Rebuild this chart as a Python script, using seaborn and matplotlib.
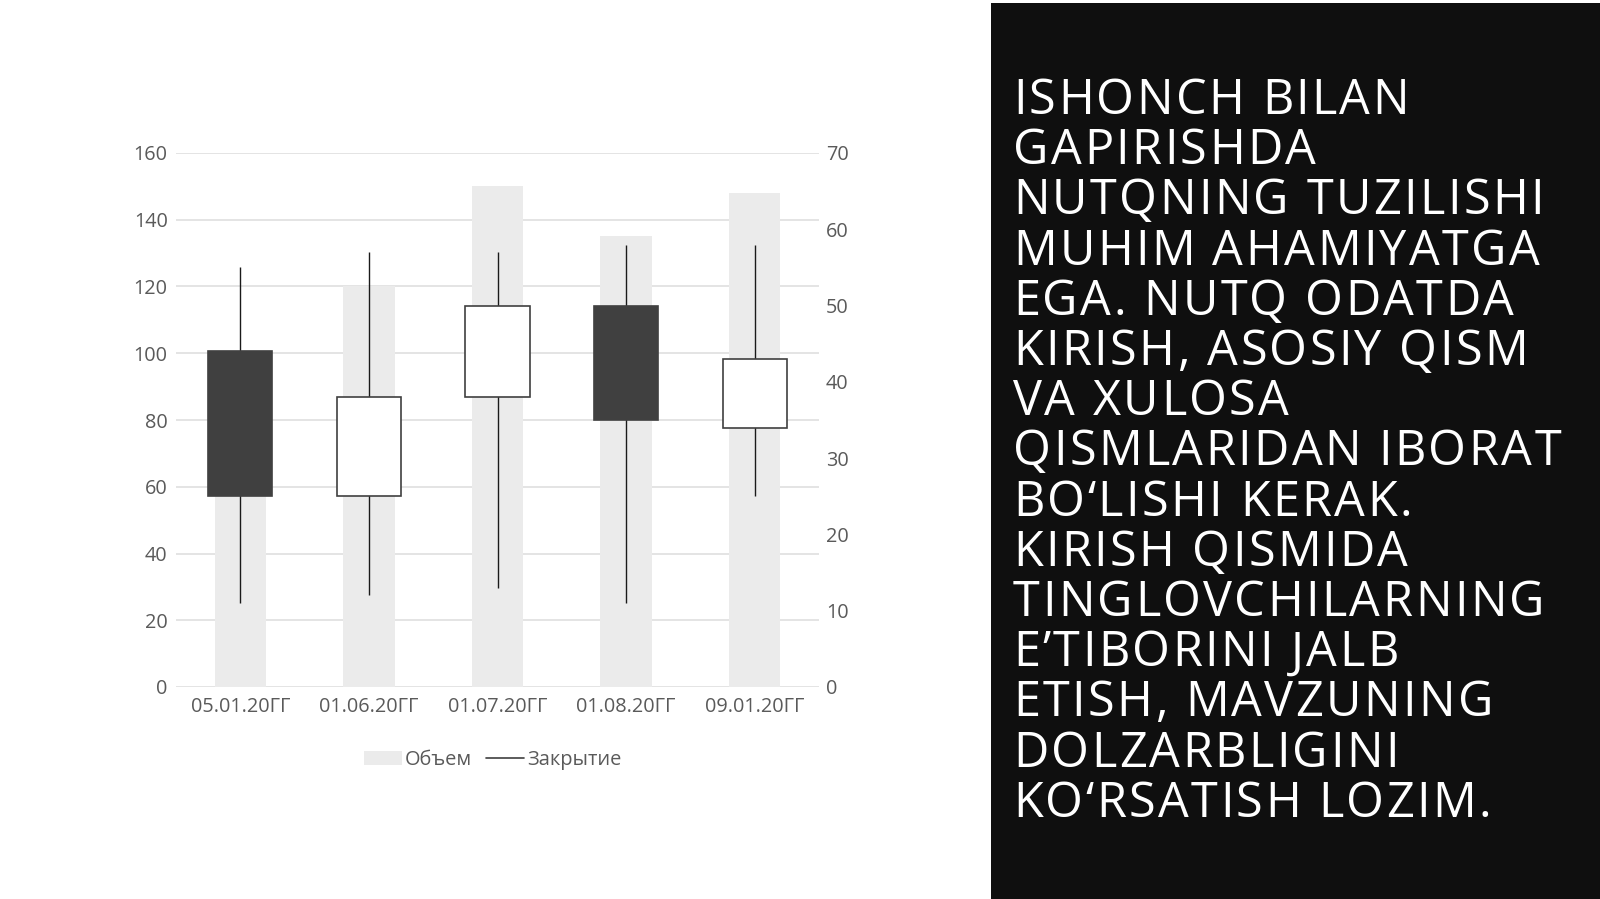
import matplotlib
matplotlib.use("Agg")
import matplotlib.pyplot as plt
import seaborn as sns
import pandas as pd
from matplotlib.patches import Rectangle, Patch
from matplotlib.lines import Line2D

# ---- data ----
dates = ["05.01.20ГГ", "01.06.20ГГ", "01.07.20ГГ", "01.08.20ГГ", "09.01.20ГГ"]
volume = [70, 120, 150, 135, 148]
open_ = [44, 25, 38, 50, 34]
high = [55, 57, 57, 58, 58]
low = [11, 12, 13, 11, 25]
close = [25, 38, 50, 35, 43]
left_ticks = [0, 20, 40, 60, 80, 100, 120, 140, 160]
right_ticks = [0, 10, 20, 30, 40, 50, 60, 70]
legend_labels = ["Объем", "Закрытие"]
text_lines = [
    "ISHONCH BILAN",
    "GAPIRISHDA",
    "NUTQNING TUZILISHI",
    "MUHIM AHAMIYATGA",
    "EGA. NUTQ ODATDA",
    "KIRISH, ASOSIY QISM",
    "VA XULOSA",
    "QISMLARIDAN IBORAT",
    "BO‘LISHI KERAK.",
    "KIRISH QISMIDA",
    "TINGLOVCHILARNING",
    "E’TIBORINI JALB",
    "ETISH, MAVZUNING",
    "DOLZARBLIGINI",
    "KO‘RSATISH LOZIM.",
]

sns.set_theme(style="white")
plt.rcParams['font.family'] = ['Open Sans', 'DejaVu Sans']

W, H = 1600, 899
fig = plt.figure(figsize=(16, 8.99), dpi=100)
fig.patch.set_facecolor("white")

tick_fs = 14.3
tick_col = "#5a5a5a"

ax = fig.add_axes([176 / W, 1 - 687 / H, (819 - 176) / W, (687 - 153) / H])
df = pd.DataFrame({"date": dates, "volume": volume})
sns.barplot(data=df, x="date", y="volume", color="#ebebeb", width=0.4,
            saturation=1, linewidth=0, ax=ax)
ax.set_ylim(0, 160)
ax.set_yticks(left_ticks)
ax.set_xlim(-0.5, len(dates) - 0.5)
ax.grid(axis="y", color="#e2e2e2", lw=1.3)
ax.grid(axis="x", visible=False)
ax.set_axisbelow(True)
ax.set_xlabel("")
ax.set_ylabel("")
for s in ax.spines.values():
    s.set_visible(False)
ax.tick_params(axis="both", length=0, labelsize=tick_fs, colors=tick_col)
ax.tick_params(axis="y", pad=6)
ax.tick_params(axis="x", pad=7)

ax2 = ax.twinx()
ax2.set_ylim(0, 70)
ax2.set_yticks(right_ticks)
for s in ax2.spines.values():
    s.set_visible(False)
ax2.tick_params(axis="y", length=0, labelsize=tick_fs, colors=tick_col, pad=5)
ax2.grid(False)

xs = list(range(len(dates)))
for i in xs:
    o, c = open_[i], close[i]
    lo, hi = min(o, c), max(o, c)
    ax2.vlines(i, low[i], high[i], color="#1a1a1a", lw=1.0, zorder=2)
    face = "#ffffff" if c > o else "#404040"
    ax2.bar(i, hi - lo, bottom=lo, width=0.5, facecolor=face,
            edgecolor="#404040", linewidth=1.2, zorder=3)

handles = [Patch(facecolor="#ebebeb", edgecolor="none"),
           Line2D([], [], color="#404040", lw=1.2)]
fig.legend(handles, legend_labels, loc="center",
           bbox_to_anchor=(493 / W, 1 - 760 / H), ncol=2, frameon=False,
           fontsize=14.4, labelcolor=tick_col, handlelength=1.9,
           handletextpad=0.15, columnspacing=0.7)

# ---- right dark panel ----
fig.add_artist(Rectangle((991 / W, 0), 1 - 991 / W, 1 - 3 / H,
                         transform=fig.transFigure, facecolor="#0f0f0f",
                         edgecolor="none", zorder=0))

renderer = fig.canvas.get_renderer()
fs = 35


def text_w(s):
    t = fig.text(0, 0, s + "|", fontsize=fs)
    w = t.get_window_extent(renderer).width
    t.remove()
    return w


base = text_w("")
ref_line = "QISMLARIDAN IBORAT"
nat = text_w(ref_line) - base
tracking = (548 - nat) / (len(ref_line) - 1)

x0 = 1013
for k, line in enumerate(text_lines):
    yb = 114 + k * 50.2
    for i, ch in enumerate(line):
        if ch == " ":
            continue
        px = x0 + (text_w(line[:i]) - base) + i * tracking
        fig.text(px / W, 1 - yb / H, ch, fontsize=fs, color="white",
                 ha="left", va="baseline")

fig.savefig("out.png", dpi=100)
